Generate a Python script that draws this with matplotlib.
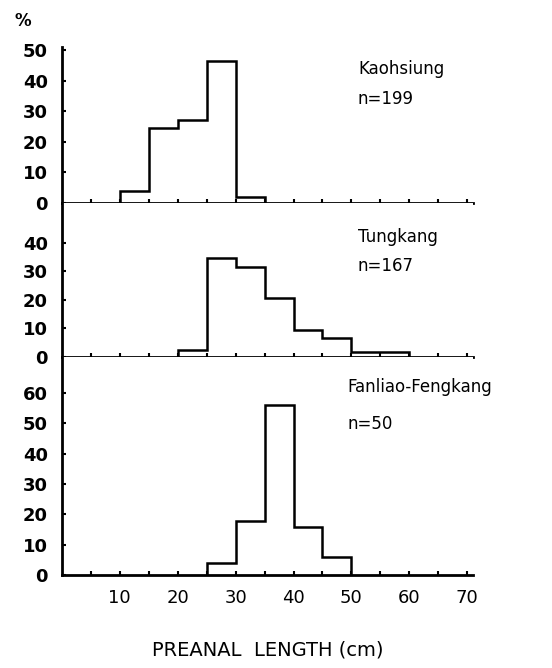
import matplotlib
matplotlib.use("Agg")
import matplotlib.pyplot as plt
import numpy as np

# 5 cm length classes, percent frequency per site
kao_edges = [10, 15, 20, 25, 30, 35]
kao_pct = [4, 24.5, 27, 46.5, 2]

tung_edges = [20, 25, 30, 35, 40, 45, 50, 55, 60]
tung_pct = [2.5, 34.5, 31.5, 20.5, 9.5, 6.5, 1.8, 1.8]

fan_edges = [25, 30, 35, 40, 45, 50]
fan_pct = [4, 18, 56, 16, 6]

sites = ["Kaohsiung", "Tungkang", "Fanliao-Fengkang"]
sizes = ["n=199", "n=167", "n=50"]
yticks = [[0, 10, 20, 30, 40, 50], [0, 10, 20, 30, 40], [0, 10, 20, 30, 40, 50, 60]]
ylims = [51, 54, 72]
xticks = [10, 20, 30, 40, 50, 60, 70]

fig = plt.figure(figsize=(5.52, 6.68), dpi=100)
boxes = [[0.112, 0.696, 0.745, 0.2335],
         [0.112, 0.466, 0.745, 0.2305],
         [0.112, 0.139, 0.745, 0.327]]
data = [(kao_edges, kao_pct), (tung_edges, tung_pct), (fan_edges, fan_pct)]
text_x = [0.72, 0.72, 0.695]
text_y = [0.86, 0.78, 0.86]
text_dy = [0.19, 0.19, 0.17]

for i in range(3):
    ax = fig.add_axes(boxes[i])
    edges, pct = data[i]
    ax.stairs(pct, edges, baseline=0, color="black", linewidth=1.8)
    ax.set_xlim(0, 71)
    ax.set_ylim(0, ylims[i])
    ax.spines["top"].set_visible(False)
    ax.spines["right"].set_visible(False)
    ax.spines["left"].set_linewidth(2)
    ax.spines["bottom"].set_linewidth(2)
    ax.set_yticks(yticks[i])
    ax.set_yticklabels([str(v) for v in yticks[i]], fontsize=13, fontweight="bold")
    ax.tick_params(axis="y", direction="in", length=3, width=1.5, pad=10)
    if i < 2:
        ax.set_xticks(np.arange(5, 71, 5))
        ax.set_xticklabels([])
        ax.tick_params(axis="x", direction="in", length=3, width=1.5)
    else:
        ax.set_xticks(xticks)
        ax.set_xticklabels([str(v) for v in xticks], fontsize=13)
        ax.set_xticks(np.arange(5, 71, 5), minor=True)
        ax.tick_params(axis="x", which="both", direction="in", length=3, width=1.5, pad=10)
        ax.set_xlabel("PREANAL  LENGTH (cm)", fontsize=14, labelpad=24)
    ax.text(text_x[i], text_y[i], sites[i], transform=ax.transAxes,
            fontsize=12, va="center", clip_on=False)
    ax.text(text_x[i], text_y[i] - text_dy[i], sizes[i], transform=ax.transAxes,
            fontsize=12, va="center", clip_on=False)

fig.text(0.027, 0.982, "%", fontsize=12, fontweight="bold", va="top")

fig.savefig("out.png", dpi=100)
